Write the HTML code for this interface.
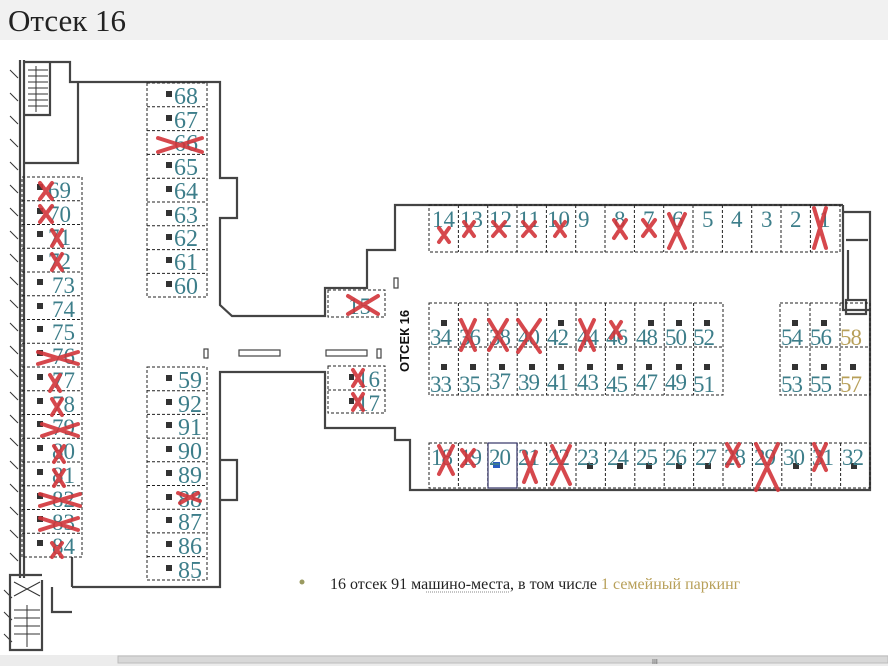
<!DOCTYPE html>
<html><head><meta charset="utf-8"><style>
body{margin:0;width:888px;height:666px;overflow:hidden;background:#fff}
svg{display:block}
.n{font-family:"Liberation Serif",serif;font-size:23px;fill:#3d7e8a}
.m{font-family:"Liberation Serif",serif;font-size:24px;fill:#3d7e8a}
.g{fill:#b8a05a}
.w{stroke:#444;stroke-width:2.2;fill:none}
.d{stroke:#222;stroke-width:1;stroke-dasharray:3,2;fill:none}
.x{stroke:#d2353a;stroke-width:4;stroke-linecap:round;opacity:.9}
.i{fill:#333}
</style></head><body>
<svg width="888" height="666" xmlns="http://www.w3.org/2000/svg">
<rect x="0" y="0" width="888" height="40" fill="#f1f1f1"/>
<text x="8" y="31" font-family="Liberation Serif,serif" font-size="31" fill="#222">Отсек 16</text>

<path class="w" d="M20 60V578M24 60V578"/>
<g stroke="#333" stroke-width="1">
<path d="M10 70l8 8M10 93l8 8M10 116l8 8M10 139l8 8M10 162l8 8M10 185l8 8M10 208l8 8M10 231l8 8M10 254l8 8M10 277l8 8M10 300l8 8M10 323l8 8M10 346l8 8M10 369l8 8M10 392l8 8M10 415l8 8M10 438l8 8M10 461l8 8M10 484l8 8M10 507l8 8M10 530l8 8M10 553l8 8M4 590l8 8M4 612l8 8M4 634l8 8"/>
</g>
<path class="w" d="M24 62H70V82H220V178H237V218H220V305L232 316H325V288H367V250H395V205H843"/>
<path class="w" d="M24 163H78V82M50 62V115H24"/>
<g stroke="#333" stroke-width="1"><path d="M28 70h20M28 76h20M28 82h20M28 88h20M28 94h20M28 100h20M28 106h20M36 66v46"/></g>
<path class="w" d="M843 205V212H870V310M843 212V310H870V490H410V440H395V428H325V372H220V587H72"/>
<path class="w" d="M846 240H868M848 250V300M220 460H237V500H220"/>
<rect x="846" y="300" width="20" height="14" class="w" stroke-width="1.2"/>
<path class="w" d="M72 557V587M42 580V650H10V575H42M52 587V612H72"/>
<g stroke="#333" stroke-width="1"><path d="M14 610h26M14 618h26M14 626h26M14 634h26M27 605v42M14 582l26 14M40 582l-26 14"/></g>

<g fill="none" stroke="#444" stroke-width="1.2">
<rect x="204" y="349" width="4" height="9"/><rect x="239" y="350" width="41" height="6"/><rect x="326" y="350" width="41" height="6"/><rect x="377" y="349" width="4" height="9"/><rect x="394" y="278" width="4" height="10"/>
</g>

<rect class="d" x="22" y="177" width="60" height="380"/>
<g class="d"><path d="M22 200.75H82M22 224.5H82M22 248.25H82M22 272H82M22 295.75H82M22 319.5H82M22 343.25H82M22 367H82M22 390.75H82M22 414.5H82M22 438.25H82M22 462H82M22 485.75H82M22 509.5H82M22 533.25H82"/></g>
<g class="i">
<rect x="37" y="184" width="6" height="6"/><rect x="37" y="208" width="6" height="6"/><rect x="37" y="231" width="6" height="6"/><rect x="37" y="255" width="6" height="6"/><rect x="37" y="279" width="6" height="6"/><rect x="37" y="303" width="6" height="6"/><rect x="37" y="326" width="6" height="6"/><rect x="37" y="350" width="6" height="6"/><rect x="37" y="374" width="6" height="6"/><rect x="37" y="398" width="6" height="6"/><rect x="37" y="421" width="6" height="6"/><rect x="37" y="445" width="6" height="6"/><rect x="37" y="469" width="6" height="6"/><rect x="37" y="493" width="6" height="6"/><rect x="37" y="516" width="6" height="6"/><rect x="37" y="540" width="6" height="6"/>
</g>
<g class="n">
<text x="48" y="198">69</text><text x="48" y="222">70</text><text x="48" y="245">71</text><text x="48" y="269">72</text><text x="52" y="293">73</text><text x="52" y="317">74</text><text x="52" y="340">75</text><text x="52" y="364">76</text><text x="52" y="388">77</text><text x="52" y="412">78</text><text x="52" y="435">79</text><text x="52" y="459">80</text><text x="52" y="483">81</text><text x="52" y="507">82</text><text x="52" y="530">83</text><text x="52" y="554">84</text>
</g>

<rect class="d" x="147" y="83" width="60" height="214"/>
<g class="d"><path d="M147 106.8H207M147 130.6H207M147 154.4H207M147 178.2H207M147 202H207M147 225.8H207M147 249.6H207M147 273.4H207"/></g>
<g class="i">
<rect x="166" y="91" width="6" height="6"/><rect x="166" y="115" width="6" height="6"/><rect x="166" y="162" width="6" height="6"/><rect x="166" y="186" width="6" height="6"/><rect x="166" y="210" width="6" height="6"/><rect x="166" y="234" width="6" height="6"/><rect x="166" y="257" width="6" height="6"/><rect x="166" y="281" width="6" height="6"/>
</g>
<g class="m">
<text x="174" y="104">68</text><text x="174" y="128">67</text><text x="174" y="151">66</text><text x="174" y="175">65</text><text x="174" y="199">64</text><text x="174" y="223">63</text><text x="174" y="246">62</text><text x="174" y="270">61</text><text x="174" y="294">60</text>
</g>

<rect class="d" x="147" y="367" width="60" height="213"/>
<g class="d"><path d="M147 390.7H207M147 414.4H207M147 438.1H207M147 461.8H207M147 485.5H207M147 509.2H207M147 532.9H207M147 556.6H207"/></g>
<g class="i">
<rect x="166" y="375" width="6" height="6"/><rect x="166" y="399" width="6" height="6"/><rect x="166" y="422" width="6" height="6"/><rect x="166" y="446" width="6" height="6"/><rect x="166" y="470" width="6" height="6"/><rect x="166" y="494" width="6" height="6"/><rect x="166" y="517" width="6" height="6"/><rect x="166" y="541" width="6" height="6"/><rect x="166" y="565" width="6" height="6"/>
</g>
<g class="m">
<text x="178" y="388">59</text><text x="178" y="412">92</text><text x="178" y="435">91</text><text x="178" y="459">90</text><text x="178" y="483">89</text><text x="178" y="507">88</text><text x="178" y="530">87</text><text x="178" y="554">86</text><text x="178" y="578">85</text>
</g>

<rect class="d" x="328" y="290" width="57" height="27"/>
<text class="n" x="348" y="314">15</text>
<rect class="d" x="328" y="366" width="57" height="47"/>
<path class="d" d="M328 390H385"/>
<rect class="i" x="349" y="374" width="5" height="6"/><rect class="i" x="349" y="398" width="5" height="6"/>
<g class="n"><text x="357" y="387">16</text><text x="357" y="411">17</text></g>
<text x="409" y="372" transform="rotate(-90 409 372)" font-family="Liberation Sans,sans-serif" font-weight="bold" font-size="13" fill="#111">ОТСЕК 16</text>

<rect class="d" x="429" y="205" width="411" height="47"/>
<g class="d"><path d="M458.4 205V252M487.7 205V252M517 205V252M546.4 205V252M575.7 205V252M605 205V252M634.4 205V252M663.7 205V252M693 205V252M722.4 205V252M751.7 205V252M781 205V252M810.4 205V252"/></g>
<g class="n" font-size="23">
<text x="432" y="227">14</text><text x="460" y="227">13</text><text x="489" y="227">12</text><text x="518" y="227">11</text><text x="547" y="227">10</text><text x="578" y="227">9</text><text x="614" y="227">8</text><text x="643" y="227">7</text><text x="672" y="227">6</text><text x="702" y="227">5</text><text x="731" y="227">4</text><text x="761" y="227">3</text><text x="790" y="227">2</text><text x="819" y="227">1</text>
</g>

<rect class="d" x="429" y="303" width="294" height="92"/>
<g class="d"><path d="M429 347H723M458.4 303V395M487.8 303V395M517.2 303V395M546.6 303V395M576 303V395M605.4 303V395M634.8 303V395M664.2 303V395M693.6 303V395"/></g>
<g class="i">
<rect x="441" y="320" width="6" height="6"/><rect x="558" y="320" width="6" height="6"/><rect x="648" y="320" width="6" height="6"/><rect x="676" y="320" width="6" height="6"/><rect x="704" y="320" width="6" height="6"/>
<rect x="441" y="364" width="6" height="6"/><rect x="470" y="364" width="6" height="6"/><rect x="499" y="364" width="6" height="6"/><rect x="529" y="364" width="6" height="6"/><rect x="558" y="364" width="6" height="6"/><rect x="587" y="364" width="6" height="6"/><rect x="617" y="364" width="6" height="6"/><rect x="646" y="364" width="6" height="6"/><rect x="676" y="364" width="6" height="6"/><rect x="704" y="364" width="6" height="6"/>
<rect x="792" y="320" width="6" height="6"/><rect x="821" y="320" width="6" height="6"/><rect x="792" y="364" width="6" height="6"/><rect x="821" y="364" width="6" height="6"/><rect x="850" y="364" width="6" height="6"/>
</g>
<g class="n" font-size="25" letter-spacing="-1">
<text x="430" y="345">34</text><text x="459" y="345">36</text><text x="489" y="345">38</text><text x="518" y="345">40</text><text x="547" y="345">42</text><text x="577" y="345">44</text><text x="606" y="345">46</text><text x="636" y="345">48</text><text x="665" y="345">50</text><text x="693" y="345">52</text>
<text x="430" y="392">33</text><text x="459" y="392">35</text><text x="489" y="389">37</text><text x="518" y="390">39</text><text x="547" y="390">41</text><text x="577" y="390">43</text><text x="606" y="392">45</text><text x="636" y="390">47</text><text x="665" y="390">49</text><text x="693" y="392">51</text>
</g>
<rect class="d" x="780" y="303" width="90" height="92"/>
<g class="d"><path d="M780 347H870M810 303V395M840 303V395"/></g>
<g class="n" font-size="25" letter-spacing="-1"><text x="781" y="345">54</text><text x="810" y="345">56</text><text x="781" y="392">53</text><text x="810" y="392">55</text></g>
<g class="n g" font-size="25" letter-spacing="-1"><text x="840" y="345">58</text><text x="840" y="392">57</text></g>

<rect class="d" x="429" y="443" width="441" height="45"/>
<g class="d"><path d="M458.4 443V488M487.8 443V488M517.2 443V488M546.6 443V488M576 443V488M605.4 443V488M634.8 443V488M664.2 443V488M693.6 443V488M723 443V488M752.4 443V488M781.8 443V488M811.2 443V488M840.6 443V488"/></g>
<rect x="488" y="443" width="29" height="45" fill="none" stroke="#336" stroke-width="1.2"/>
<rect x="493" y="462" width="7" height="6" fill="#2a5cc0"/>
<g class="i">
<rect x="587" y="463" width="6" height="6"/><rect x="617" y="463" width="6" height="6"/><rect x="646" y="463" width="6" height="6"/><rect x="676" y="463" width="6" height="6"/><rect x="705" y="463" width="6" height="6"/><rect x="793" y="463" width="6" height="6"/><rect x="851" y="463" width="6" height="6"/>
</g>
<g class="n" font-size="23" letter-spacing="-1">
<text x="431" y="465">18</text><text x="460" y="465">19</text><text x="489" y="465">20</text><text x="518" y="465">21</text><text x="548" y="465">22</text><text x="577" y="465">23</text><text x="607" y="465">24</text><text x="636" y="465">25</text><text x="665" y="465">26</text><text x="695" y="465">27</text><text x="724" y="465">28</text><text x="754" y="465">29</text><text x="783" y="465">30</text><text x="812" y="465">31</text><text x="842" y="465">32</text>
</g>

<g class="x">
<path d="M40 183l12 16M52 183l-12 16M40 206l12 16M52 206l-12 16M52 230l10 16M62 230l-10 16M52 254l10 16M62 254l-10 16"/>
<path d="M38 352l40 12M38 364l40-12M50 375l10 16M60 375l-10 16M52 399l10 16M62 399l-10 16M42 424l36 12M42 436l36-12M54 446l10 16M64 446l-10 16M54 470l10 16M64 470l-10 16M40 494l40 12M40 506l40-12M40 518l38 12M40 530l38-12M52 543l10 14M62 543l-10 14"/>
<path d="M158 138l44 14M158 152l44-14M178 493l22 8M180 503l18-10"/>
<path d="M348 296l30 18M348 314l30-18M353 370l10 16M363 370l-10 16M353 394l10 16M363 394l-10 16"/>
<path d="M439 228l10 14M449 228l-10 14M464 222l10 14M474 222l-10 14M493 222l12 14M505 222l-12 14M523 222l12 14M535 222l-12 14M555 222l10 14M565 222l-10 14M614 220l12 18M626 220l-12 18M643 220l12 16M655 220l-12 16M669 214l16 34M685 214l-16 34M814 208l12 40M826 208l-12 40"/>
<path d="M461 320l14 30M475 320l-14 30M489 320l18 30M507 320l-18 30M518 320l22 32M540 320l-22 32M580 320l14 30M594 320l-14 30M611 322l10 16M621 322l-10 16"/>
<path d="M439 446l14 28M453 446l-14 28M462 450l12 16M474 450l-12 16M524 452l12 30M536 452l-12 30M552 446l18 38M570 446l-18 38M727 444l12 22M739 444l-12 22M756 444l22 46M778 444l-22 46M814 444l12 26M826 444l-12 26"/>
</g>

<circle cx="302" cy="582" r="2.5" fill="#9a9a60"/>
<text x="330" y="589" font-family="Liberation Serif,serif" font-size="16" fill="#222">16 отсек 91 машино-места, в том числе <tspan fill="#b8a05a">1 семейный паркинг</tspan></text>
<path d="M426 592H510" stroke="#888" stroke-width="1" stroke-dasharray="1,1"/>

<rect x="0" y="655" width="888" height="11" fill="#ececec"/>
<rect x="118" y="656" width="770" height="7" fill="#d8d8d8" stroke="#bbb" stroke-width="1"/>
<text x="652" y="664" font-size="7" fill="#555" font-family="Liberation Sans,sans-serif">III</text>
</svg>
</body></html>
